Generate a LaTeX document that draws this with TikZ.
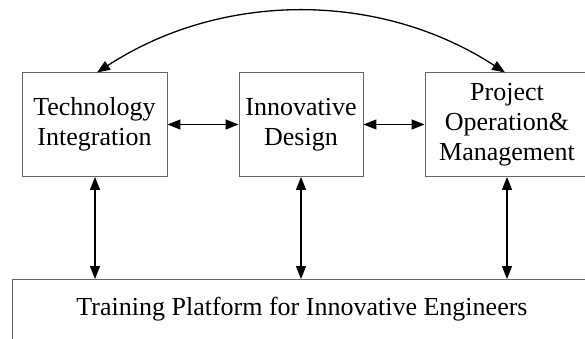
\documentclass[tikz,border=0pt]{standalone}
\usepackage{fontspec}
\setmainfont{Liberation Serif}
\usetikzlibrary{arrows.meta}
\begin{document}
\begin{tikzpicture}[x=1pt,y=-1pt,
  block/.style={draw=black!60, line width=0.9pt, fill=white, inner sep=0pt,
    align=center, font=\fontsize{26}{30}\selectfont},
  link/.style={line width=1.3pt, {Triangle[length=13pt,width=10pt]}-{Triangle[length=13pt,width=10pt]}}]
  \useasboundingbox (0,0) rectangle (585,339);
  \begin{scope}
    \clip (0,0) rectangle (585,339);
    % three activity blocks
    \node[block, minimum width=145pt, minimum height=104pt] (tech) at (94.5,124.5) {Technology\\Integration};
    \node[block, minimum width=124pt, minimum height=104pt] (design) at (301,124.5) {Innovative\\Design};
    \node[block, minimum width=164pt, minimum height=104pt] (proj) at (507,124.5) {Project\\Operation\&\\Management};
    % platform underneath
    \node[block, minimum width=580pt, minimum height=80pt, anchor=north west] (plat) at (12,279) {};
    \node[font=\fontsize{26}{30}\selectfont] (platlabel) at (302,309) {Training Platform for Innovative Engineers};
  \end{scope}
  % horizontal links
  \draw[link] (tech.east) -- (design.west);
  \draw[link] (design.east) -- (proj.west);
  % vertical links to the platform
  \coordinate (p1) at (95,279);
  \coordinate (p2) at (301,279);
  \coordinate (p3) at (507,279);
  \draw[link] (tech.south -| p1) -- (p1);
  \draw[link] (design.south) -- (p2);
  \draw[link] (proj.south) -- (p3);
  % arc joining the outer blocks
  \coordinate (a1) at (97,72.5);
  \coordinate (a2) at (505,72.5);
  \draw[link] (a1) .. controls (222,-9) and (380,-9) .. (a2);
\end{tikzpicture}
\end{document}
